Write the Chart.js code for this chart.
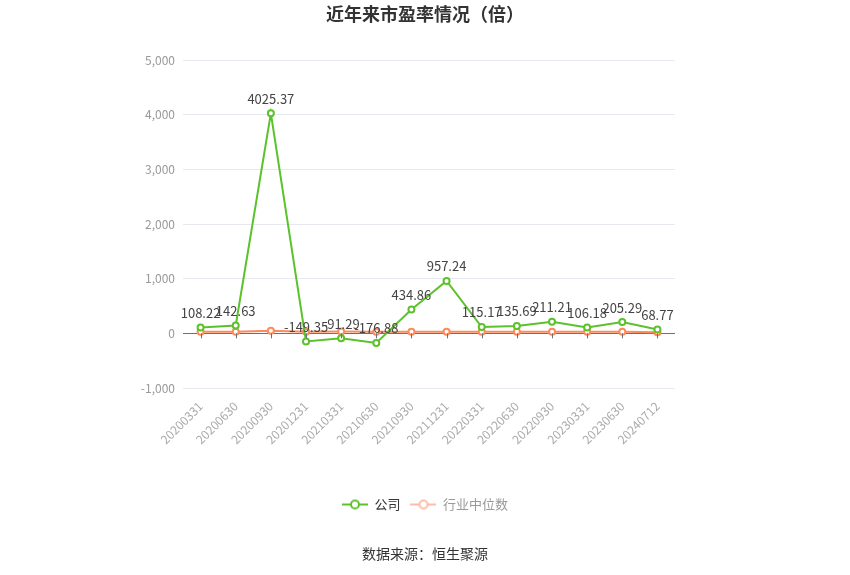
<!DOCTYPE html>
<html lang="zh">
<head>
    <meta charset="UTF-8">
    <script src="https://cdn.jsdelivr.net/npm/chart.js"></script>
    <title>近年来市盈率情况</title>
    <style>
        body { margin: 0; background: #fff; }
        #box { width: 850px; height: 575px; }
    </style>
</head>
<body>
    <div id="box"><canvas id="grafico"></canvas></div>
</body>
</html>
<script>
    var datas = ['20200331','20200630','20200930','20201231','20210331','20210630','20210930','20211231','20220331','20220630','20220930','20230331','20230630','20240712']
    var empresa = [108.22, 142.63, 4025.37, -149.35, -91.29, -176.88, 434.86, 957.24, 115.17, 135.69, 211.21, 106.18, 205.29, 68.77]
    var mediana = [30, 30, 45, 30, 32, 28, 30, 30, 28, 28, 28, 28, 28, 18]
    var nomes = ['公司', '行业中位数']

    var fonte = '"Noto Sans CJK SC", "Noto Sans", sans-serif'
    var verde = '#5cc22c'
    var laranja = '#ff8a5b'

    // icone da legenda: linha com circulo vazio
    function icone(cor) {
        var c = document.createElement('canvas')
        c.width = 26
        c.height = 12
        var g = c.getContext('2d')
        g.strokeStyle = cor
        g.lineWidth = 2
        g.beginPath()
        g.moveTo(0, 6)
        g.lineTo(26, 6)
        g.stroke()
        g.fillStyle = '#fff'
        g.beginPath()
        g.arc(13, 6, 4, 0, Math.PI * 2)
        g.fill()
        g.stroke()
        return c
    }

    var textos = {
        id: 'textos',
        afterDraw(chart) {
            var ctx = chart.ctx
            ctx.save()
            ctx.textAlign = 'center'
            ctx.fillStyle = '#333'
            ctx.font = 'bold 18px ' + fonte
            ctx.textBaseline = 'middle'
            ctx.fillText('近年来市盈率情况（倍）', 425, 14)
            ctx.font = '14px ' + fonte
            ctx.fillText('数据来源：恒生聚源', 425, 554)
            ctx.restore()
        }
    }

    var rotulos = {
        id: 'rotulos',
        afterDatasetsDraw(chart) {
            var ctx = chart.ctx
            var meta = chart.getDatasetMeta(0)
            var x = chart.scales.x
            var y0 = chart.scales.y.getPixelForValue(0)
            ctx.save()
            // pequenos tracos do eixo no zero
            ctx.strokeStyle = '#6e7079'
            ctx.lineWidth = 1
            for (var i = 0; i < datas.length; i++) {
                var px = Math.round(x.getPixelForTick(i)) + 0.5
                ctx.beginPath()
                ctx.moveTo(px, y0)
                ctx.lineTo(px, y0 + 5)
                ctx.stroke()
            }
            ctx.font = '13px ' + fonte
            ctx.fillStyle = '#444'
            ctx.textAlign = 'center'
            ctx.textBaseline = 'bottom'
            meta.data.forEach(function (p, i) {
                ctx.fillText(empresa[i].toFixed(2), p.x, p.y - 8)
            })
            ctx.restore()
        }
    }

    var criacaoGrafico = new Chart(document.getElementById('grafico'), {
        type: 'line',
        data: {
            labels: datas,
            datasets: [{
                label: nomes[0],
                data: empresa,
                borderColor: verde,
                backgroundColor: '#fff',
                borderWidth: 2,
                pointRadius: 3,
                pointBorderWidth: 2,
                pointBackgroundColor: '#fff',
                tension: 0
            }, {
                label: nomes[1],
                data: mediana,
                borderColor: laranja,
                backgroundColor: '#fff',
                borderWidth: 2,
                pointRadius: 3,
                pointBorderWidth: 2,
                pointBackgroundColor: '#fff',
                tension: 0
            }]
        },
        options: {
            responsive: true,
            maintainAspectRatio: false,
            animation: false,
            layout: { padding: { left: 0, right: 0, top: 60, bottom: 54 } },
            plugins: {
                title: { display: false },
                tooltip: { enabled: false },
                legend: {
                    position: 'bottom',
                    labels: {
                        usePointStyle: true,
                        pointStyleWidth: 26,
                        boxHeight: 12,
                        padding: 10,
                        font: { size: 13, family: fonte },
                        generateLabels(chart) {
                            return [
                                { text: nomes[0], pointStyle: icone(verde), fontColor: '#333', datasetIndex: 0, lineWidth: 0, strokeStyle: 'transparent', fillStyle: 'transparent' },
                                { text: nomes[1], pointStyle: icone('#ffbca6'), fontColor: '#999', datasetIndex: 1, lineWidth: 0, strokeStyle: 'transparent', fillStyle: 'transparent' }
                            ]
                        }
                    }
                }
            },
            scales: {
                x: {
                    offset: true,
                    afterFit(scale) { scale.height = 100 },
                    border: { display: false },
                    grid: { display: false },
                    ticks: {
                        minRotation: 45,
                        maxRotation: 45,
                        color: '#aaa',
                        font: { size: 12, family: fonte }
                    }
                },
                y: {
                    min: -1000,
                    max: 5000,
                    afterFit(scale) { scale.width = 183 },
                    border: { display: false },
                    grid: {
                        drawTicks: false,
                        color(c) { return c.tick && c.tick.value === 0 ? '#6e7079' : '#e6e9f0' }
                    },
                    ticks: {
                        stepSize: 1000,
                        padding: 8,
                        color: '#999',
                        font: { size: 12, family: fonte }
                    }
                },
                // eixo vazio a direita so para reservar o espaco
                direita: {
                    position: 'right',
                    display: true,
                    afterFit(scale) { scale.width = 175 },
                    border: { display: false },
                    grid: { display: false },
                    ticks: { display: false }
                }
            }
        },
        plugins: [textos, rotulos]
    })
</script>
